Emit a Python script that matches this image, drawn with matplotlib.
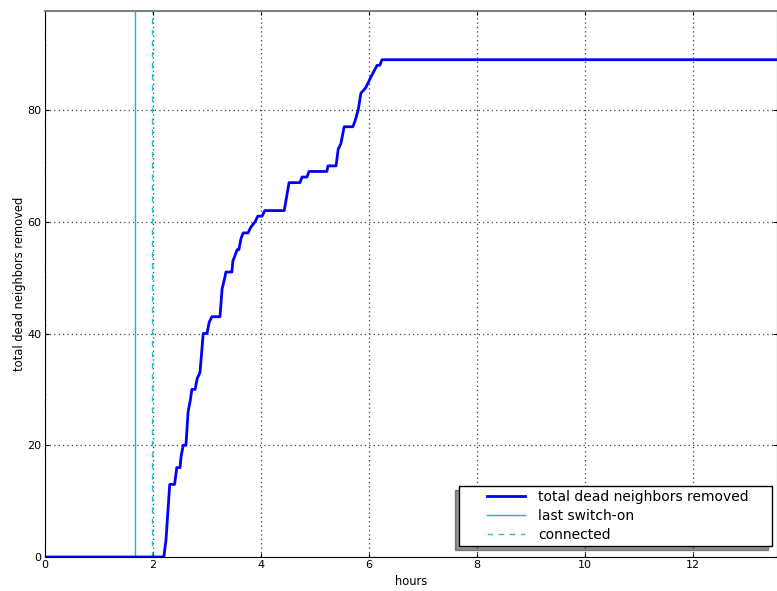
import matplotlib
matplotlib.use("Agg")
import matplotlib.pyplot as plt
from matplotlib.legend_handler import HandlerLine2D

# data: (hours, total dead neighbors removed)
hours = [0.0, 2.20, 2.24, 2.31, 2.40, 2.44, 2.50, 2.52, 2.56, 2.61, 2.65, 2.69,
         2.72, 2.78, 2.82, 2.87, 2.93, 3.00, 3.04, 3.09, 3.24, 3.28, 3.33, 3.35,
         3.46, 3.48, 3.52, 3.56, 3.59, 3.63, 3.67, 3.76, 3.81, 3.89, 3.94, 4.02,
         4.07, 4.43, 4.52, 4.72, 4.76, 4.85, 4.89, 5.22, 5.24, 5.39, 5.43, 5.48,
         5.54, 5.70, 5.74, 5.80, 5.85, 5.94, 6.04, 6.15, 6.20, 6.24, 13.6]
removed = [0, 0, 3, 13, 13, 16, 16, 18, 20, 20, 26, 28,
           30, 30, 32, 33, 40, 40, 42, 43, 43, 48, 50, 51,
           51, 53, 54, 55, 55, 57, 58, 58, 59, 60, 61, 61,
           62, 62, 67, 67, 68, 68, 69, 69, 70, 70, 73, 74,
           77, 77, 78, 80, 83, 84, 86, 88, 88, 89, 89]
last_switch_on = 1.667
connected = 1.98

plt.rcParams.update({
    "font.family": "DejaVu Sans",
    "xtick.direction": "in",
    "ytick.direction": "in",
    "xtick.top": True,
    "ytick.right": True,
    "xtick.labelsize": 8,
    "ytick.labelsize": 8,
})

fig = plt.figure(figsize=(7.77, 5.91), dpi=100)
ax = fig.add_axes([45 / 777, 34 / 591, 732 / 777, 546 / 591])

ax.plot(hours, removed, color="b", linewidth=2, label="total dead neighbors removed", zorder=3)
ax.axvline(last_switch_on, color="#22b4c4", linewidth=1, label="last switch-on")
ax.axvline(connected, color="#22c4c8", linewidth=1, linestyle=(0, (4, 4)), label="connected")

ax.set_xlim(0, 732 / 54)
ax.set_ylim(0, 546 / 5.5875)
ax.set_xticks([0, 2, 4, 6, 8, 10, 12])
ax.set_yticks([0, 20, 40, 60, 80])
ax.grid(True, linestyle=(0, (1, 2.5)), color="0.25", linewidth=0.9)
ax.tick_params(length=3, pad=2.5)
ax.set_xlabel("hours", fontsize=8.3, labelpad=3)
ax.set_ylabel("total dead neighbors removed", fontsize=8.3, labelpad=1)
ax.spines["top"].set_color("0.5")
ax.spines["top"].set_linewidth(1.5)

fs = 10
leg = ax.legend(loc="lower left", bbox_to_anchor=(0.566, 0.020, 0.427, 0.1), mode="expand",
                borderaxespad=0, fontsize=fs, fancybox=False,
                shadow={"ox": -3, "oy": -3, "shade": 0.85},
                handlelength=4.4, handletextpad=1.0, labelspacing=0.35, borderpad=0.3,
                handler_map={plt.Line2D: HandlerLine2D(xpad=1.68)})
leg.get_frame().set_edgecolor("k")
leg.get_frame().set_linewidth(1)

fig.savefig("out.png", dpi=100)
